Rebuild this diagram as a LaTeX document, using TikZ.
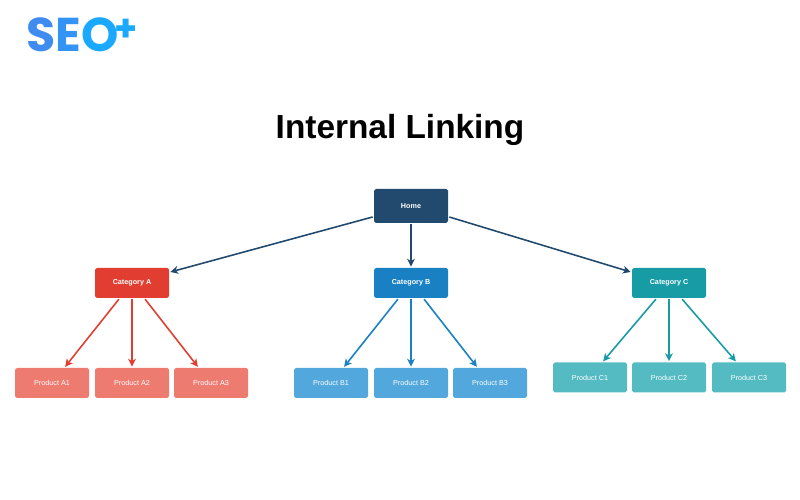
\documentclass[tikz,border=0pt]{standalone}
\usepackage{fontspec}
\usetikzlibrary{arrows.meta}
\setmainfont{Liberation Sans}
\newfontfamily\logofont{Poppins}
\definecolor{homecol}{HTML}{224A6E}
\definecolor{catacol}{HTML}{E13E31}
\definecolor{catbcol}{HTML}{1A80C4}
\definecolor{catccol}{HTML}{179CA6}
\definecolor{prodacol}{HTML}{EE7B70}
\definecolor{prodbcol}{HTML}{52A8DC}
\definecolor{prodccol}{HTML}{55BBC3}
\definecolor{logos}{HTML}{3F8CF0}
\definecolor{logoe}{HTML}{3394F6}
\definecolor{logoo}{HTML}{1AA9FF}
\begin{document}
\begin{tikzpicture}[>={Stealth[length=4.4pt,width=4.4pt,inset=1.2pt]},
        box/.style={rounded corners=1pt, minimum width=1.48cm, minimum height=0.6cm, inner sep=0pt, text=white, font=\fontsize{4.1}{5}\selectfont},
        catbox/.style={box, font=\fontsize{4.1}{5}\selectfont\bfseries},
        link/.style={->, line width=0.9pt, shorten >=0.6pt, shorten <=0.6pt}]
        \useasboundingbox (0,0) rectangle (16,10);

        % Logo and title
        \node[inner sep=0pt, anchor=base west, font=\logofont\bfseries\fontsize{27}{29}\selectfont] (logo) at (0.52,8.96) {\textcolor{logos}{S}\textcolor{logoe}{E}\textcolor{logoo}{O}\hspace{-2pt}\raisebox{5.7pt}{\textcolor{logoo}{\fontsize{21}{23}\selectfont +}}};
        \node[font=\fontsize{19}{22}\selectfont\bfseries] (title) at (8,7.41) {Internal Linking};

        % Home
        \node[box, catbox, fill=homecol, minimum height=0.68cm] (home) at (8.22,5.88) {Home};

        % Left branch
        \begin{scope}
            \node[catbox, fill=catacol] (cata) at (2.64,4.34) {Category A};
            \node[box, fill=prodacol] (proda1) at (1.04,2.34) {Product A1};
            \node[box, fill=prodacol] (proda2) at (2.64,2.34) {Product A2};
            \node[box, fill=prodacol] (proda3) at (4.22,2.34) {Product A3};

            \draw[link, homecol] (home.196) -- (cata.16);
            \draw[link, catacol] (cata.231) -- (proda1.51);
            \draw[link, catacol] (cata.south) -- (proda2.north);
            \draw[link, catacol] (cata.309) -- (proda3.129);
        \end{scope}

        % Middle branch
        \begin{scope}
            \node[catbox, fill=catbcol] (catb) at (8.22,4.34) {Category B};
            \node[box, fill=prodbcol] (prodb1) at (6.62,2.34) {Product B1};
            \node[box, fill=prodbcol] (prodb2) at (8.22,2.34) {Product B2};
            \node[box, fill=prodbcol] (prodb3) at (9.80,2.34) {Product B3};

            \draw[link, homecol] (home.south) -- (catb.north);
            \draw[link, catbcol] (catb.231) -- (prodb1.51);
            \draw[link, catbcol] (catb.south) -- (prodb2.north);
            \draw[link, catbcol] (catb.309) -- (prodb3.129);
        \end{scope}

        % Right branch
        \begin{scope}
            \node[catbox, fill=catccol] (catc) at (13.38,4.34) {Category C};
            \node[box, fill=prodccol] (prodc1) at (11.80,2.45) {Product C1};
            \node[box, fill=prodccol] (prodc2) at (13.38,2.45) {Product C2};
            \node[box, fill=prodccol] (prodc3) at (14.98,2.45) {Product C3};

            \draw[link, homecol] (home.344) -- (catc.164);
            \draw[link, catccol] (catc.231) -- (prodc1.51);
            \draw[link, catccol] (catc.south) -- (prodc2.north);
            \draw[link, catccol] (catc.309) -- (prodc3.129);
        \end{scope}
    \end{tikzpicture}
\end{document}
